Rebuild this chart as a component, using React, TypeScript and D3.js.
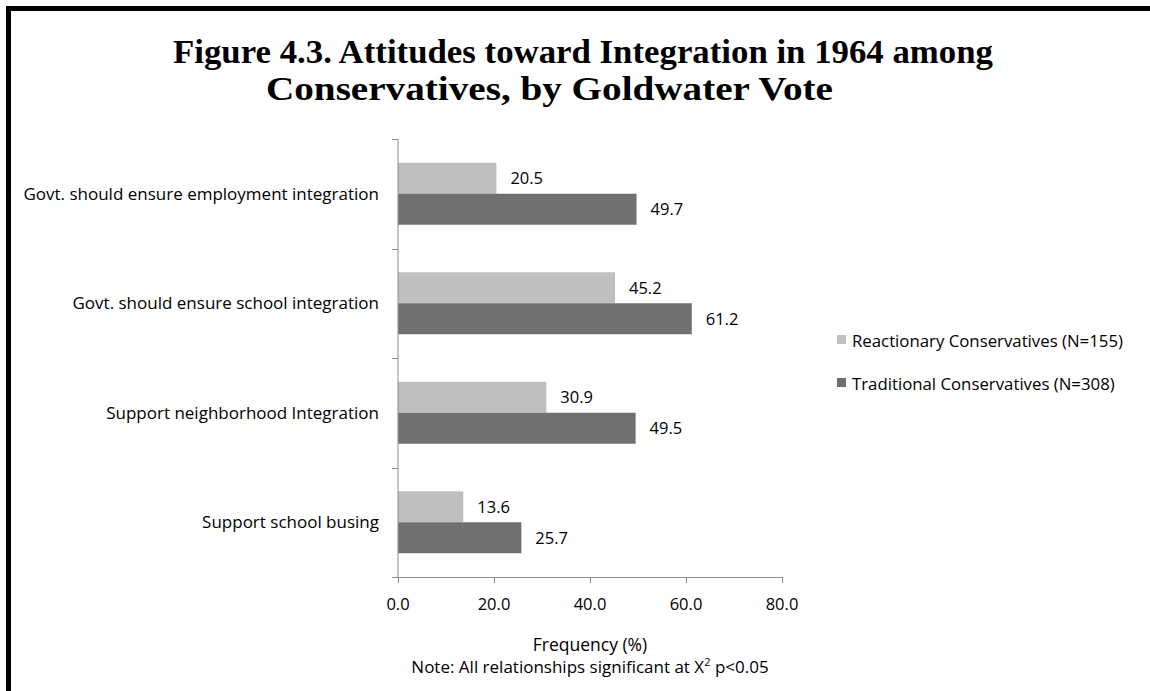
import React from "react";
import * as d3 from "d3";

const categories = [
  "Govt. should ensure employment integration",
  "Govt. should ensure school integration",
  "Support neighborhood Integration",
  "Support school busing",
];
const seriesNames = [
  "Reactionary Conservatives (N=155)",
  "Traditional Conservatives (N=308)",
];
const reactionary = [20.5, 45.2, 30.9, 13.6];
const traditional = [49.7, 61.2, 49.5, 25.7];
const xTicks = [0, 20, 40, 60, 80];
const colors = ["#bfbfbf", "#707070"];

const W = 1150;
const H = 691;
const FONT = "'Open Sans', sans-serif";
const SERIF = "'Liberation Serif', 'Times New Roman', serif";

export default function App() {
  const x = d3.scaleLinear().domain([0, 80]).range([398, 782]);
  const y = d3.scaleBand<string>().domain(categories).range([139, 577]).padding(0);
  const bw = y.bandwidth();
  const groupH = bw * 0.566;
  const inner = d3
    .scaleBand<string>()
    .domain(seriesNames)
    .range([(bw - groupH) / 2, (bw + groupH) / 2])
    .padding(0);
  const series = [reactionary, traditional];
  const axisColor = "#8c8c8c";
  const boundaries = d3.range(categories.length + 1).map((i) => 139 + i * bw);

  return (
    <svg
      width={W}
      height={H}
      style={{ position: "absolute", left: 0, top: 0, background: "#fff" }}
    >
      <rect x={0} y={0} width={W} height={H} fill="#fff" />
      <rect x={8.5} y={8.5} width={1300} height={900} fill="none" stroke="#000" strokeWidth={5} />
      <text
        x={173}
        y={63}
        textLength={820}
        lengthAdjust="spacingAndGlyphs"
        fontFamily={SERIF}
        fontWeight="bold"
        fontSize={33}
        fill="#000"
      >
        Figure 4.3. Attitudes toward Integration in 1964 among
      </text>
      <text
        x={266}
        y={100}
        textLength={567}
        lengthAdjust="spacingAndGlyphs"
        fontFamily={SERIF}
        fontWeight="bold"
        fontSize={33}
        fill="#000"
      >
        Conservatives, by Goldwater Vote
      </text>

      {/* bars */}
      {categories.map((c, ci) => (
        <g key={c}>
          {seriesNames.map((s, si) => {
            const v = series[si][ci];
            const y0 = (y(c) as number) + (inner(s) as number);
            const h = inner.bandwidth();
            return (
              <g key={s}>
                <rect x={x(0)} y={y0} width={x(v) - x(0)} height={h} fill={colors[si]} />
                <text
                  x={x(v) + 14}
                  y={y0 + h / 2 + 6}
                  fontFamily={FONT}
                  fontSize={16.5}
                  fill="#000"
                >
                  {v.toFixed(1)}
                </text>
              </g>
            );
          })}
          <text
            x={379}
            y={(y(c) as number) + bw / 2 + 6}
            textAnchor="end"
            fontFamily={FONT}
            fontSize={17}
            fill="#000"
          >
            {c}
          </text>
        </g>
      ))}

      {/* y axis */}
      <line x1={398} x2={398} y1={139} y2={577} stroke={axisColor} strokeWidth={1} />
      {boundaries.map((b, i) => (
        <line key={i} x1={392} x2={398} y1={Math.round(b) + 0.5} y2={Math.round(b) + 0.5} stroke={axisColor} />
      ))}

      {/* x axis */}
      <line x1={398} x2={782} y1={577.5} y2={577.5} stroke={axisColor} strokeWidth={1} />
      {xTicks.map((t) => (
        <g key={t}>
          <line x1={Math.round(x(t)) + 0.5} x2={Math.round(x(t)) + 0.5} y1={577} y2={583} stroke={axisColor} />
          <text x={x(t)} y={610} textAnchor="middle" fontFamily={FONT} fontSize={16.5} fill="#000">
            {t.toFixed(1)}
          </text>
        </g>
      ))}
      <text x={590} y={651} textAnchor="middle" fontFamily={FONT} fontSize={17.5} fill="#000">
        Frequency (%)
      </text>
      <text x={590} y={673} textAnchor="middle" fontFamily={FONT} fontSize={17} fill="#000">
        Note: All relationships significant at X<tspan dy={-7} fontSize={11}>2</tspan>
        <tspan dy={7}> p&lt;0.05</tspan>
      </text>

      {/* legend */}
      {seriesNames.map((s, i) => (
        <g key={s}>
          <rect x={837} y={335 + i * 43} width={9} height={9} fill={colors[i]} />
          <text x={852} y={347 + i * 43} fontFamily={FONT} fontSize={16.8} fill="#000">
            {s}
          </text>
        </g>
      ))}
    </svg>
  );
}
